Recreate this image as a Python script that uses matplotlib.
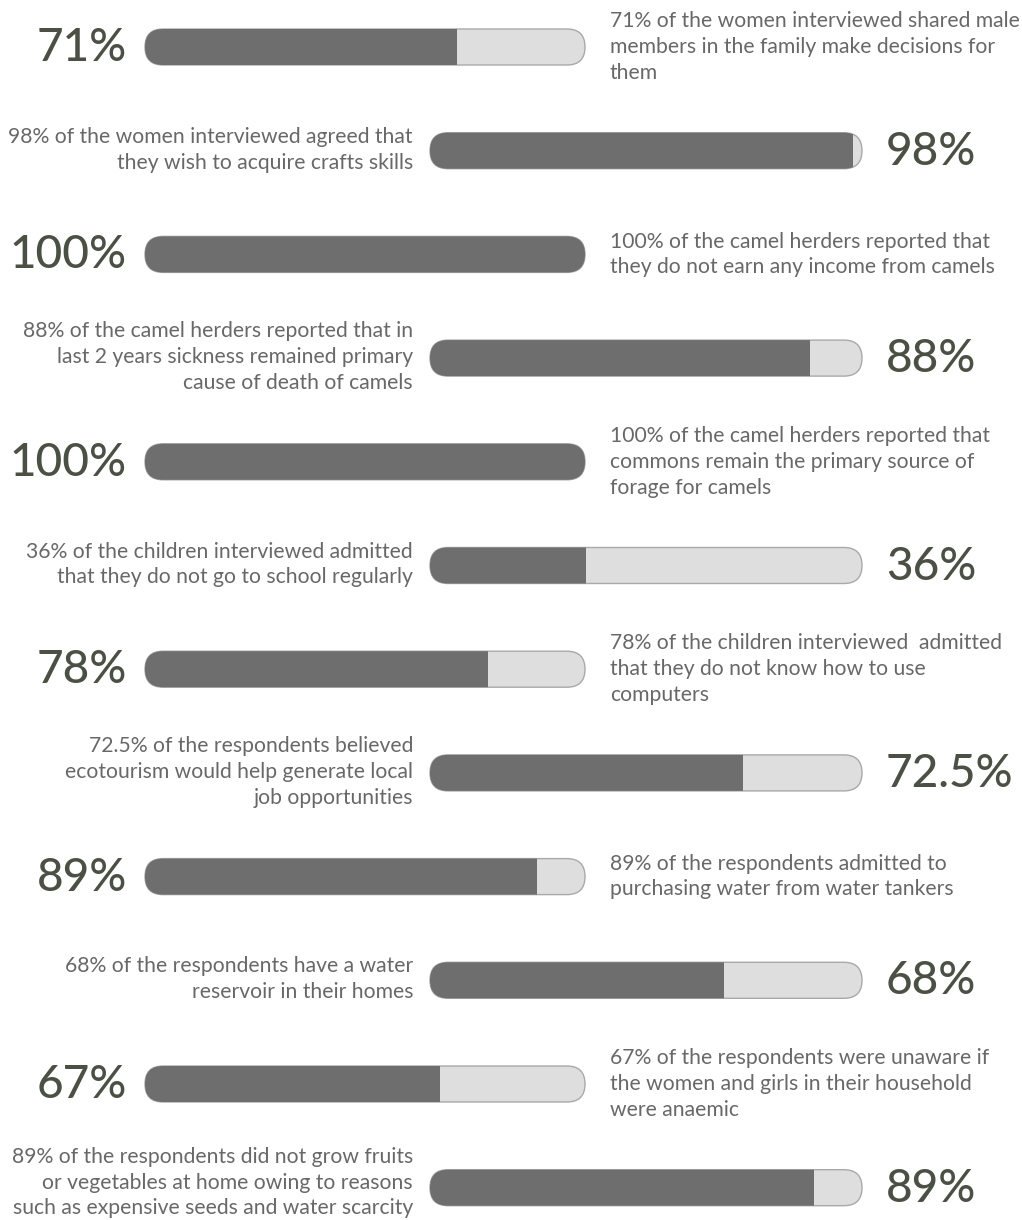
import matplotlib
matplotlib.use("Agg")
import matplotlib.pyplot as plt
from matplotlib.patches import FancyBboxPatch, Rectangle

values = [71, 98, 100, 88, 100, 36, 78, 72.5, 89, 68, 67, 89]
labels = ["71%", "98%", "100%", "88%", "100%", "36%", "78%", "72.5%", "89%", "68%", "67%", "89%"]
descriptions = [
    "71% of the women interviewed shared male\nmembers in the family make decisions for\nthem",
    "98% of the women interviewed agreed that\nthey wish to acquire crafts skills",
    "100% of the camel herders reported that\nthey do not earn any income from camels",
    "88% of the camel herders reported that in\nlast 2 years sickness remained primary\ncause of death of camels",
    "100% of the camel herders reported that\ncommons remain the primary source of\nforage for camels",
    "36% of the children interviewed admitted\nthat they do not go to school regularly",
    "78% of the children interviewed  admitted\nthat they do not know how to use\ncomputers",
    "72.5% of the respondents believed\necotourism would help generate local\njob opportunities",
    "89% of the respondents admitted to\npurchasing water from water tankers",
    "68% of the respondents have a water\nreservoir in their homes",
    "67% of the respondents were unaware if\nthe women and girls in their household\nwere anaemic",
    "89% of the respondents did not grow fruits\nor vegetables at home owing to reasons\nsuch as expensive seeds and water scarcity",
]

W, H = 1022, 1220
fig = plt.figure(figsize=(W / 100, H / 100), dpi=100)
ax = fig.add_axes([0, 0, 1, 1])
ax.set_xlim(0, W)
ax.set_ylim(H, 0)
ax.axis("off")

DARK = "#6e6e6e"
LIGHT = "#dedede"
EDGE = "#a9a9a9"
PCT = "#4b5045"
TXT = "#686868"

row0, step = 47, 103.7
bh = 36
n = len(values)
for i, (v, lab, desc) in enumerate(zip(values, labels, descriptions)):
    yc = row0 + i * step
    ty = yc - 1 - (4 if i == n - 1 else 0)
    if i % 2 == 0:
        x0, x1 = 145, 585
    else:
        x0, x1 = 430, 862
    bw = x1 - x0
    bg = FancyBboxPatch((x0, yc - bh / 2), bw, bh,
                        boxstyle=f"round,pad=0,rounding_size={bh/2}",
                        facecolor=LIGHT, edgecolor=EDGE, linewidth=1.0, zorder=2)
    ax.add_patch(bg)
    fg = Rectangle((x0 - 2, yc - bh / 2 - 2), v / 100 * bw + 2, bh + 4,
                   facecolor=DARK, edgecolor="none", zorder=3)
    ax.add_patch(fg)
    fg.set_clip_path(bg)
    if i % 2 == 0:
        ax.text(127, yc + 1, lab, ha="right", va="center", fontsize=33,
                family="Lato", color=PCT, fontweight="medium")
        ax.text(610, yc, desc, ha="left", va="center", fontsize=15.2,
                family="Lato", color=TXT, linespacing=1.36)
    else:
        ax.text(886, yc + 1, lab, ha="left", va="center", fontsize=33,
                family="Lato", color=PCT, fontweight="medium")
        ax.text(413, ty, desc, ha="right", va="center", fontsize=15.2,
                family="Lato", color=TXT, linespacing=1.36, multialignment="right")

fig.savefig("out.png", dpi=100, facecolor="white")
